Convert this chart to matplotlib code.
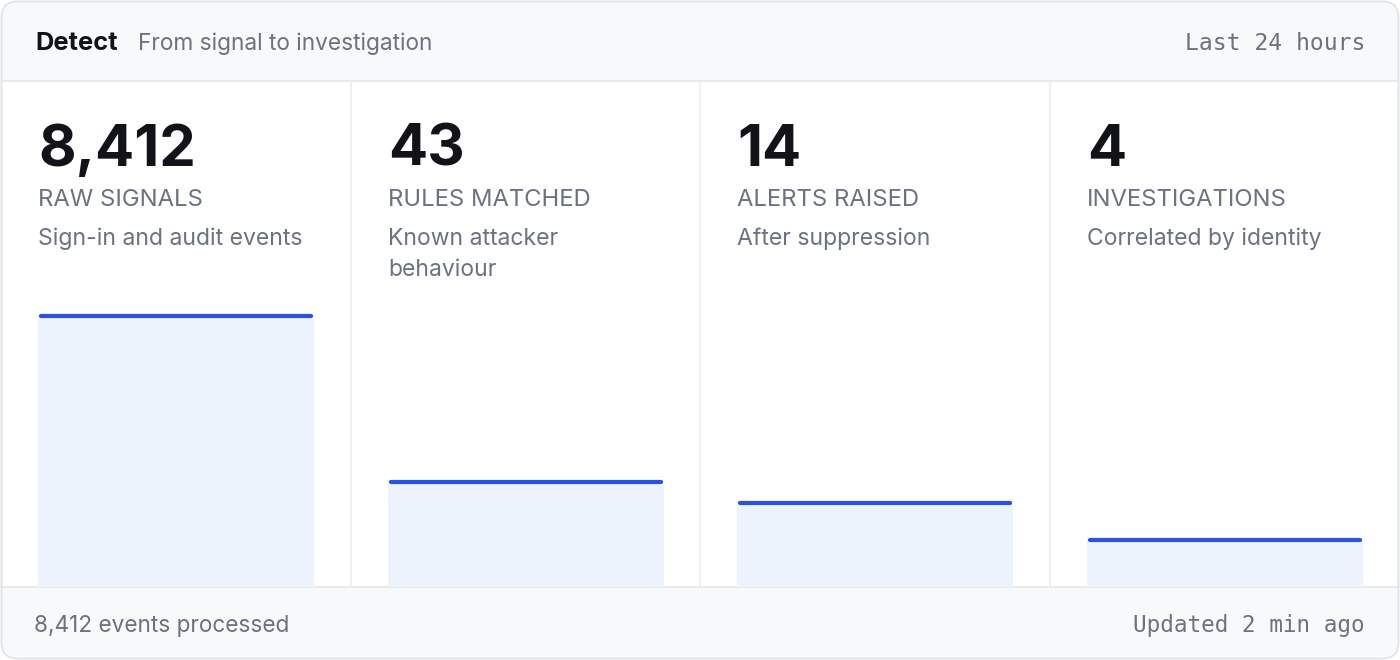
import matplotlib.pyplot as plt
from matplotlib.patches import FancyBboxPatch, Rectangle

# Funnel stages
stages = ['RAW SIGNALS', 'RULES MATCHED', 'ALERTS RAISED', 'INVESTIGATIONS']
counts = [8412, 43, 14, 4]
descriptions = ['Sign-in and audit events', 'Known attacker\nbehaviour',
                'After suppression', 'Correlated by identity']
# bar fill as shown, percent of the tallest bar
bar_pct = [100, 39.2, 31.5, 17.9]

title = 'Detect'
subtitle = 'From signal to investigation'
period = 'Last 24 hours'
footer_left = '8,412 events processed'
footer_right = 'Updated 2 min ago'

# Colours
dark = '#111318'
gray = '#6b7280'
border = '#e3e5e8'
panel_bg = '#f8f9fa'
blue = '#2952e3'
fill = '#edf3fd'

W, H = 1400, 660
PT = 0.72  # points per pixel at dpi 100

fig = plt.figure(figsize=(14, 6.6), dpi=100)
ax = fig.add_axes([0, 0, 1, 1])
ax.set_xlim(0, W)
ax.set_ylim(H, 0)
ax.axis('off')

# card
card = FancyBboxPatch((1.5, 1.5), W - 3, H - 3,
                      boxstyle='round,pad=0,rounding_size=16',
                      facecolor='white', edgecolor='none', zorder=0)
ax.add_patch(card)
for y0, h in [(0, 81), (587, 73)]:
    r = Rectangle((0, y0), W, h, facecolor=panel_bg, edgecolor='none', zorder=1)
    ax.add_patch(r)
    r.set_clip_path(card)
ax.hlines([81, 587], 1.5, W - 1.5, color=border, lw=1.5 * PT, zorder=2)
ax.vlines([351, 700, 1050], 81, 587, color='#ececef', lw=1.5 * PT, zorder=2)
ax.add_patch(FancyBboxPatch((1.5, 1.5), W - 3, H - 3,
                            boxstyle='round,pad=0,rounding_size=16',
                            facecolor='none', edgecolor=border,
                            lw=2 * PT, zorder=5))

# header and footer
ax.text(35, 50, title, fontsize=25.5 * PT, fontweight='bold', color=dark,
        family='Inter', va='baseline')
ax.text(138, 50, subtitle, fontsize=22.7 * PT, color=gray,
        family='Inter', va='baseline')
ax.text(1365, 50, period, fontsize=23 * PT, color=gray,
        family='DejaVu Sans Mono', va='baseline', ha='right')
ax.text(34, 632, footer_left, fontsize=22.6 * PT, color=gray,
        family='Inter', va='baseline')
ax.text(1365, 632, footer_right, fontsize=22.6 * PT, color=gray,
        family='DejaVu Sans Mono', va='baseline', ha='right')

col_x = [38, 388, 737, 1087]
bar_w = 276
bar_top_max = 314
for i, x0 in enumerate(col_x):
    ax.text(x0, 166, f'{counts[i]:,}', fontsize=58 * PT, fontweight='bold',
            color=dark, family='Inter', va='baseline')
    ax.text(x0, 206, stages[i], fontsize=23.8 * PT, color=gray,
            family='Inter', va='baseline')
    for k, line in enumerate(descriptions[i].split('\n')):
        ax.text(x0, 245 + 31 * k, line, fontsize=23 * PT, color=gray,
                family='Inter', va='baseline')

    # bar in its own axes
    bax = fig.add_axes([x0 / W, (H - 587) / H, bar_w / W, (587 - bar_top_max) / H])
    bax.set_xlim(0, 1)
    bax.set_ylim(0, 100)
    bax.axis('off')
    bax.bar(0.5, bar_pct[i], width=1, color=fill, edgecolor='none')
    bax.plot([0.012, 0.988], [bar_pct[i] - 0.6, bar_pct[i] - 0.6], color=blue,
             lw=4.2 * PT, solid_capstyle='round', clip_on=False)

fig.savefig('out.png', dpi=100)
